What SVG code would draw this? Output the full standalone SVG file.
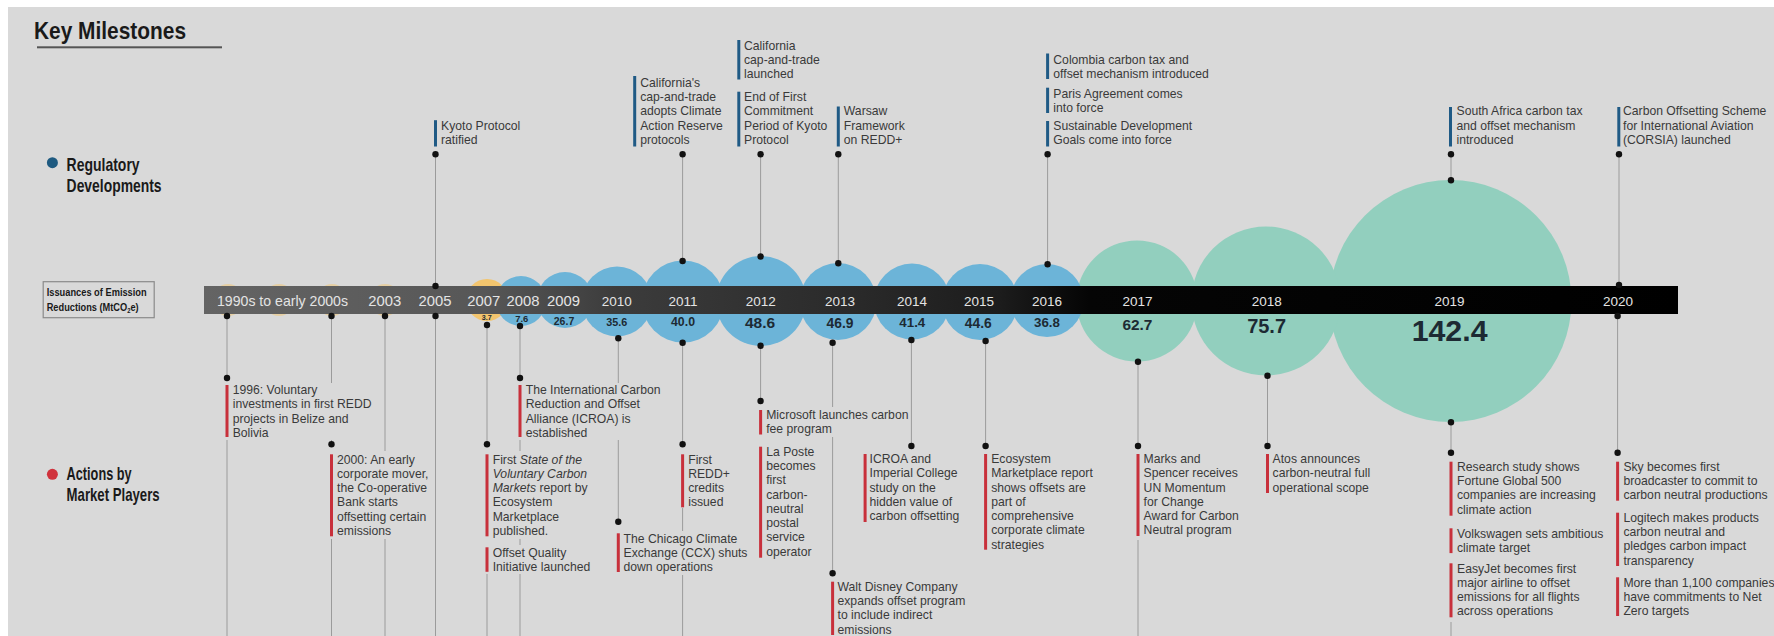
<svg xmlns="http://www.w3.org/2000/svg" width="1774" height="636" viewBox="0 0 1774 636">
<style>
.bgc{fill:#d9d9d9}
.ln{stroke:#9b9b9b;stroke-width:1;fill:none}
.dot{fill:#111}
.bb{fill:#1f5a85}
.rb{fill:#c8303b}
.tx{font-family:"Liberation Sans",Arial,sans-serif;font-size:12.2px;fill:#3a3a3a}
.yr{font-family:"Liberation Sans",Arial,sans-serif;fill:#e4e4e4;text-anchor:middle}
.val{font-family:"Liberation Sans",Arial,sans-serif;font-weight:bold;text-anchor:middle;fill:#1d2a33}
.hd{font-family:"Liberation Sans",Arial,sans-serif;font-weight:bold;fill:#1a1a1a}
.blue{fill:#6cb4d8}
.teal{fill:#92cfbe}
.yel{fill:#f3c56e}
</style>
<defs>
<linearGradient id="barGrad" gradientUnits="userSpaceOnUse" x1="204" y1="0" x2="1678" y2="0">
<stop offset="0" stop-color="#646464"/>
<stop offset="0.19" stop-color="#575757"/>
<stop offset="0.28" stop-color="#3c3c3c"/>
<stop offset="0.44" stop-color="#2a2a2a"/>
<stop offset="0.54" stop-color="#1c1c1c"/>
<stop offset="0.6" stop-color="#050505"/>
<stop offset="1" stop-color="#000"/>
</linearGradient>
</defs>
<rect width="1774" height="636" fill="#ffffff"/>
<rect x="8" y="7" width="1766" height="629" class="bgc"/>

<g id="title">
<text class="hd" x="34" y="39.3" font-size="24.5" textLength="152" lengthAdjust="spacingAndGlyphs">Key Milestones</text>
<rect x="37" y="46.3" width="185" height="2" fill="#555"/>
</g>

<g id="legend-regulatory">
<circle cx="52.4" cy="162.7" r="5.5" fill="#1e5a80"/>
<text class="hd" x="66.6" y="170.7" font-size="19" textLength="73" lengthAdjust="spacingAndGlyphs">Regulatory</text>
<text class="hd" x="66.6" y="192.3" font-size="19" textLength="95" lengthAdjust="spacingAndGlyphs">Developments</text>
</g>
<g id="legend-actions">
<circle cx="52.4" cy="474.3" r="5.5" fill="#d0323c"/>
<text class="hd" x="66.6" y="480.3" font-size="19" textLength="65" lengthAdjust="spacingAndGlyphs">Actions by</text>
<text class="hd" x="66.6" y="500.5" font-size="19" textLength="93" lengthAdjust="spacingAndGlyphs">Market Players</text>
</g>
<g id="legend-issuances">
<rect x="43.2" y="281.7" width="111" height="36" fill="none" stroke="#8a8a8a" stroke-width="1.2"/>
<text class="hd" x="46.7" y="295.5" font-size="11" textLength="100" lengthAdjust="spacingAndGlyphs">Issuances of Emission</text>
<text class="hd" x="46.7" y="310.5" font-size="11" textLength="92" lengthAdjust="spacingAndGlyphs">Reductions (MtCO<tspan font-size="7" dy="2">2</tspan><tspan dy="-2">e)</tspan></text>
</g>

<g id="bubbles">
<circle class="yel" cx="228" cy="300" r="16" opacity="0.5"/>
<circle class="yel" cx="279" cy="300" r="16" opacity="0.5"/>
<circle class="yel" cx="332" cy="300" r="16" opacity="0.5"/>
<circle class="yel" cx="385" cy="300" r="16" opacity="0.5"/>
<circle id="b2007" class="yel" cx="487" cy="300" r="21"/>
<circle id="b2019" class="teal" cx="1450.5" cy="301" r="121"/>
<circle id="b2018" class="teal" cx="1266" cy="301" r="74.5"/>
<circle id="b2017" class="teal" cx="1137" cy="301" r="60.5"/>
<circle id="b2008" class="blue" cx="521" cy="301" r="25"/>
<circle id="b2009" class="blue" cx="565" cy="300" r="28"/>
<circle id="b2010" class="blue" cx="617" cy="301.5" r="35"/>
<circle id="b2011" class="blue" cx="683" cy="301.5" r="41"/>
<circle id="b2012" class="blue" cx="761" cy="301" r="45"/>
<circle id="b2013" class="blue" cx="838" cy="301.5" r="38.5"/>
<circle id="b2014" class="blue" cx="912" cy="301.5" r="38"/>
<circle id="b2015" class="blue" cx="980" cy="302" r="38"/>
<circle id="b2016" class="blue" cx="1047" cy="300.5" r="36.5"/>
</g>

<g id="timeline-bar">
<rect x="204" y="286" width="1474" height="28" fill="url(#barGrad)"/>
<g class="yr" font-size="14.8">
<text x="282.5" y="305.5" textLength="131" lengthAdjust="spacingAndGlyphs">1990s to early 2000s</text>
<text x="384.7" y="305.5">2003</text>
<text x="435" y="305.5">2005</text>
<text x="483.7" y="305.5">2007</text>
<text x="523" y="305.5">2008</text>
<text x="563.5" y="305.5">2009</text>
</g>
<g class="yr" font-size="13.5">
<text x="616.7" y="305.5">2010</text>
<text x="683" y="305.5">2011</text>
<text x="760.7" y="305.5">2012</text>
<text x="840" y="305.5">2013</text>
<text x="912" y="305.5">2014</text>
<text x="979" y="305.5">2015</text>
<text x="1047" y="305.5">2016</text>
<text x="1137.6" y="305.5">2017</text>
<text x="1266.8" y="305.5">2018</text>
<text x="1449.6" y="305.5">2019</text>
<text x="1618" y="305.5">2020</text>
</g>
</g>

<g id="values">
<text class="val" x="486.7" y="319.5" font-size="7.2">3.7</text>
<text class="val" x="521.7" y="321.7" font-size="9.4">7.6</text>
<text class="val" x="564" y="325" font-size="10.5">26.7</text>
<text class="val" x="616.7" y="326" font-size="10.8">35.6</text>
<text class="val" x="683" y="326" font-size="12.3">40.0</text>
<text class="val" x="760" y="328.3" font-size="15.5">48.6</text>
<text class="val" x="840" y="327.7" font-size="13.8">46.9</text>
<text class="val" x="912.3" y="327.2" font-size="13.3">41.4</text>
<text class="val" x="978.3" y="327.5" font-size="13.8">44.6</text>
<text class="val" x="1047" y="327.2" font-size="13.3">36.8</text>
<text class="val" x="1137.4" y="330" font-size="15.4" fill="#1a1a1a">62.7</text>
<text class="val" x="1266.6" y="333.3" font-size="20" fill="#1a1a1a">75.7</text>
<text class="val" x="1449.6" y="340.7" font-size="30.3" fill="#1a1a1a">142.4</text>
</g>

<g id="connectors">
<path class="ln" d="M435.5 154V286M682.6 154V261M760.6 154V256M838.3 154V263M1047.6 154V264M1451 154V180M1619 154V285"/>
<path class="ln" d="M227 316V378M227 440V636M331.5 316V444M331.5 538V636M385 316V636M435.5 316V636M487 325V444M487 574V636M520 326V378M520 440V636M618.3 338V521.7M682.6 343V444M682.6 508V636M760.6 346V401M832.6 343V573M911.4 340V446M985.6 341V446M1138 362V446M1138 540V636M1267.5 376V446M1451 422V452.7M1451 622V636M1617.6 316V452.7"/>
<g class="dot">
<circle cx="435.5" cy="154.3" r="3.2"/><circle cx="682.6" cy="154.3" r="3.2"/><circle cx="760.6" cy="154.3" r="3.2"/><circle cx="838.3" cy="154.3" r="3.2"/><circle cx="1047.6" cy="154.3" r="3.2"/><circle cx="1451" cy="154.3" r="3.2"/><circle cx="1619" cy="154.3" r="3.2"/>
<circle cx="435.5" cy="286" r="3.2"/><circle cx="682.6" cy="261" r="3.2"/><circle cx="760.6" cy="256.5" r="3.2"/><circle cx="838.3" cy="263.3" r="3.2"/><circle cx="1047.6" cy="264.3" r="3.2"/><circle cx="1451" cy="180.3" r="3.2"/><circle cx="1619" cy="285" r="3.2"/>
<circle cx="227" cy="316" r="3.2"/><circle cx="331.5" cy="316" r="3.2"/><circle cx="385" cy="316" r="3.2"/><circle cx="435.5" cy="316" r="3.2"/><circle cx="487" cy="325" r="3.2"/><circle cx="520" cy="326" r="3.2"/><circle cx="618.3" cy="338.3" r="3.2"/><circle cx="682.6" cy="342.7" r="3.2"/><circle cx="760.6" cy="345.7" r="3.2"/><circle cx="832.6" cy="342.7" r="3.2"/><circle cx="911.4" cy="340" r="3.2"/><circle cx="985.6" cy="341" r="3.2"/><circle cx="1138" cy="361.7" r="3.2"/><circle cx="1267.5" cy="375.7" r="3.2"/><circle cx="1451" cy="422.3" r="3.2"/><circle cx="1617.6" cy="316" r="3.2"/>
<circle cx="227" cy="378" r="3.2"/><circle cx="331.5" cy="444.3" r="3.2"/><circle cx="487" cy="444.3" r="3.2"/><circle cx="520" cy="378" r="3.2"/><circle cx="618.3" cy="521.7" r="3.2"/><circle cx="682.6" cy="444.3" r="3.2"/><circle cx="760.6" cy="401" r="3.2"/><circle cx="832.6" cy="573.3" r="3.2"/><circle cx="911.4" cy="446" r="3.2"/><circle cx="985.6" cy="446" r="3.2"/><circle cx="1138" cy="446" r="3.2"/><circle cx="1267.5" cy="446" r="3.2"/><circle cx="1451" cy="452.7" r="3.2"/><circle cx="1617.6" cy="452.7" r="3.2"/>
</g>
</g>

<!-- Regulatory developments -->
<g id="reg-2005">
<rect class="bb" x="434" y="120.2" width="3" height="26.3"/>
<text class="tx"><tspan x="441" y="129.7">Kyoto Protocol</tspan><tspan x="441" y="144">ratified</tspan></text>
</g>
<g id="reg-2011">
<rect class="bb" x="633.2" y="76" width="3" height="70.5"/>
<text class="tx"><tspan x="640.2" y="86.8">California's</tspan><tspan x="640.2" y="101.1">cap-and-trade</tspan><tspan x="640.2" y="115.4">adopts Climate</tspan><tspan x="640.2" y="129.7">Action Reserve</tspan><tspan x="640.2" y="144">protocols</tspan></text>
</g>
<g id="reg-2012">
<rect class="bb" x="737.3" y="40" width="3" height="39.5"/>
<text class="tx"><tspan x="744" y="49.5">California</tspan><tspan x="744" y="63.8">cap-and-trade</tspan><tspan x="744" y="78.1">launched</tspan></text>
<rect class="bb" x="737.3" y="91.7" width="3" height="54.8"/>
<text class="tx"><tspan x="744" y="101.1">End of First</tspan><tspan x="744" y="115.4">Commitment</tspan><tspan x="744" y="129.7">Period of Kyoto</tspan><tspan x="744" y="144">Protocol</tspan></text>
</g>
<g id="reg-2013">
<rect class="bb" x="836.8" y="106.5" width="3" height="40"/>
<text class="tx"><tspan x="843.8" y="115.4">Warsaw</tspan><tspan x="843.8" y="129.7">Framework</tspan><tspan x="843.8" y="144">on REDD+</tspan></text>
</g>
<g id="reg-2016">
<rect class="bb" x="1046.1" y="53.5" width="3" height="25.5"/>
<text class="tx"><tspan x="1053.3" y="63.5">Colombia carbon tax and</tspan><tspan x="1053.3" y="77.8">offset mechanism introduced</tspan></text>
<rect class="bb" x="1046.1" y="87.7" width="3" height="25.3"/>
<text class="tx"><tspan x="1053.3" y="97.5">Paris Agreement comes</tspan><tspan x="1053.3" y="111.8">into force</tspan></text>
<rect class="bb" x="1046.1" y="121" width="3" height="25.5"/>
<text class="tx"><tspan x="1053.3" y="129.7">Sustainable Development</tspan><tspan x="1053.3" y="144">Goals come into force</tspan></text>
</g>
<g id="reg-2019">
<rect class="bb" x="1449" y="107" width="3" height="39.5"/>
<text class="tx"><tspan x="1456.5" y="115.4">South Africa carbon tax</tspan><tspan x="1456.5" y="129.7">and offset mechanism</tspan><tspan x="1456.5" y="144">introduced</tspan></text>
</g>
<g id="reg-2020">
<rect class="bb" x="1617.3" y="107" width="3" height="39.5"/>
<text class="tx"><tspan x="1623" y="115.4">Carbon Offsetting Scheme</tspan><tspan x="1623" y="129.7">for International Aviation</tspan><tspan x="1623" y="144">(CORSIA) launched</tspan></text>
</g>

<!-- Actions by market players -->
<g id="act-1996">
<rect class="bgc" x="225" y="383" width="144" height="57"/>
<rect class="rb" x="225.5" y="385" width="3" height="52"/>
<text class="tx"><tspan x="232.7" y="394.2">1996: Voluntary</tspan><tspan x="232.7" y="408.45">investments in first REDD</tspan><tspan x="232.7" y="422.7">projects in Belize and</tspan><tspan x="232.7" y="436.95">Bolivia</tspan></text>
</g>
<g id="act-2000">
<rect class="bgc" x="329" y="451" width="101" height="88"/>
<rect class="rb" x="330" y="454.3" width="3" height="82"/>
<text class="tx"><tspan x="337" y="463.5">2000: An early</tspan><tspan x="337" y="477.75">corporate mover,</tspan><tspan x="337" y="492">the Co-operative</tspan><tspan x="337" y="506.25">Bank starts</tspan><tspan x="337" y="520.5">offsetting certain</tspan><tspan x="337" y="534.75">emissions</tspan></text>
</g>
<g id="act-2007">
<rect class="bgc" x="485" y="451" width="103" height="88"/>
<rect class="rb" x="485.5" y="454.3" width="3" height="82"/>
<text class="tx"><tspan x="492.7" y="463.5">First <tspan font-style="italic">State of the</tspan></tspan><tspan x="492.7" y="477.75" font-style="italic">Voluntary Carbon</tspan><tspan x="492.7" y="492"><tspan font-style="italic">Markets</tspan> report by</tspan><tspan x="492.7" y="506.25">Ecosystem</tspan><tspan x="492.7" y="520.5">Marketplace</tspan><tspan x="492.7" y="534.75">published.</tspan></text>
<rect class="bgc" x="485" y="545" width="107" height="29"/>
<rect class="rb" x="485.5" y="547.3" width="3" height="24.5"/>
<text class="tx"><tspan x="492.7" y="556.5">Offset Quality</tspan><tspan x="492.7" y="570.75">Initiative launched</tspan></text>
</g>
<g id="act-2008">
<rect class="bgc" x="518" y="383" width="143" height="57"/>
<rect class="rb" x="518.5" y="385" width="3" height="52"/>
<text class="tx"><tspan x="525.7" y="394.2">The International Carbon</tspan><tspan x="525.7" y="408.45">Reduction and Offset</tspan><tspan x="525.7" y="422.7">Alliance (ICROA) is</tspan><tspan x="525.7" y="436.95">established</tspan></text>
</g>
<g id="act-2010">
<rect class="bgc" x="616" y="531" width="129" height="44"/>
<rect class="rb" x="616.8" y="533.3" width="3" height="38.7"/>
<text class="tx"><tspan x="623.5" y="542.5">The Chicago Climate</tspan><tspan x="623.5" y="556.75">Exchange (CCX) shuts</tspan><tspan x="623.5" y="571">down operations</tspan></text>
</g>
<g id="act-2011">
<rect class="rb" x="681.1" y="454.3" width="3" height="53"/>
<text class="tx"><tspan x="688.2" y="463.5">First</tspan><tspan x="688.2" y="477.75">REDD+</tspan><tspan x="688.2" y="492">credits</tspan><tspan x="688.2" y="506.25">issued</tspan></text>
</g>
<g id="act-2012">
<rect class="bgc" x="758" y="407" width="151" height="30"/>
<rect class="rb" x="759.1" y="410" width="3" height="24.5"/>
<text class="tx"><tspan x="766.2" y="419.2">Microsoft launches carbon</tspan><tspan x="766.2" y="433.45">fee program</tspan></text>
<rect class="rb" x="759.1" y="446.7" width="3" height="111"/>
<text class="tx"><tspan x="766.2" y="455.9">La Poste</tspan><tspan x="766.2" y="470.15">becomes</tspan><tspan x="766.2" y="484.4">first</tspan><tspan x="766.2" y="498.65">carbon-</tspan><tspan x="766.2" y="512.9">neutral</tspan><tspan x="766.2" y="527.15">postal</tspan><tspan x="766.2" y="541.4">service</tspan><tspan x="766.2" y="555.65">operator</tspan></text>
</g>
<g id="act-2013">
<rect class="rb" x="831.1" y="581.7" width="3" height="53.3"/>
<text class="tx"><tspan x="837.5" y="590.9">Walt Disney Company</tspan><tspan x="837.5" y="605.15">expands offset program</tspan><tspan x="837.5" y="619.4">to include indirect</tspan><tspan x="837.5" y="633.65">emissions</tspan></text>
</g>
<g id="act-2014">
<rect class="bgc" x="863" y="451" width="99" height="73"/>
<rect class="rb" x="863.6" y="454" width="3" height="68"/>
<text class="tx"><tspan x="869.5" y="463.2">ICROA and</tspan><tspan x="869.5" y="477.45">Imperial College</tspan><tspan x="869.5" y="491.7">study on the</tspan><tspan x="869.5" y="505.95">hidden value of</tspan><tspan x="869.5" y="520.2">carbon offsetting</tspan></text>
</g>
<g id="act-2015">
<rect class="rb" x="984.1" y="454" width="3" height="95.7"/>
<text class="tx"><tspan x="991.2" y="463.2">Ecosystem</tspan><tspan x="991.2" y="477.45">Marketplace report</tspan><tspan x="991.2" y="491.7">shows offsets are</tspan><tspan x="991.2" y="505.95">part of</tspan><tspan x="991.2" y="520.2">comprehensive</tspan><tspan x="991.2" y="534.45">corporate climate</tspan><tspan x="991.2" y="548.7">strategies</tspan></text>
</g>
<g id="act-2017">
<rect class="rb" x="1136.5" y="454" width="3" height="82"/>
<text class="tx"><tspan x="1143.6" y="463.2">Marks and</tspan><tspan x="1143.6" y="477.45">Spencer receives</tspan><tspan x="1143.6" y="491.7">UN Momentum</tspan><tspan x="1143.6" y="505.95">for Change</tspan><tspan x="1143.6" y="520.2">Award for Carbon</tspan><tspan x="1143.6" y="534.45">Neutral program</tspan></text>
</g>
<g id="act-2018">
<rect class="rb" x="1266" y="454" width="3" height="39"/>
<text class="tx"><tspan x="1272.6" y="463.2">Atos announces</tspan><tspan x="1272.6" y="477.45">carbon-neutral full</tspan><tspan x="1272.6" y="491.7">operational scope</tspan></text>
</g>
<g id="act-2019">
<rect class="rb" x="1449.5" y="461.7" width="3" height="54"/>
<text class="tx"><tspan x="1457" y="470.9">Research study shows</tspan><tspan x="1457" y="485.15">Fortune Global 500</tspan><tspan x="1457" y="499.4">companies are increasing</tspan><tspan x="1457" y="513.65">climate action</tspan></text>
<rect class="rb" x="1449.5" y="528.3" width="3" height="24.8"/>
<text class="tx"><tspan x="1457" y="537.5">Volkswagen sets ambitious</tspan><tspan x="1457" y="551.75">climate target</tspan></text>
<rect class="rb" x="1449.5" y="563.3" width="3" height="54"/>
<text class="tx"><tspan x="1457" y="572.5">EasyJet becomes first</tspan><tspan x="1457" y="586.75">major airline to offset</tspan><tspan x="1457" y="601">emissions for all flights</tspan><tspan x="1457" y="615.25">across operations</tspan></text>
</g>
<g id="act-2020">
<rect class="rb" x="1616.1" y="461.7" width="3" height="39"/>
<text class="tx"><tspan x="1623.4" y="470.9">Sky becomes first</tspan><tspan x="1623.4" y="485.15">broadcaster to commit to</tspan><tspan x="1623.4" y="499.4">carbon neutral productions</tspan></text>
<rect class="rb" x="1616.1" y="512.7" width="3" height="53.3"/>
<text class="tx"><tspan x="1623.4" y="521.9">Logitech makes products</tspan><tspan x="1623.4" y="536.15">carbon neutral and</tspan><tspan x="1623.4" y="550.4">pledges carbon impact</tspan><tspan x="1623.4" y="564.65">transparency</tspan></text>
<rect class="rb" x="1616.1" y="577.3" width="3" height="38.7"/>
<text class="tx"><tspan x="1623.4" y="586.5">More than 1,100 companies</tspan><tspan x="1623.4" y="600.75">have commitments to Net</tspan><tspan x="1623.4" y="615">Zero targets</tspan></text>
</g>
</svg>
